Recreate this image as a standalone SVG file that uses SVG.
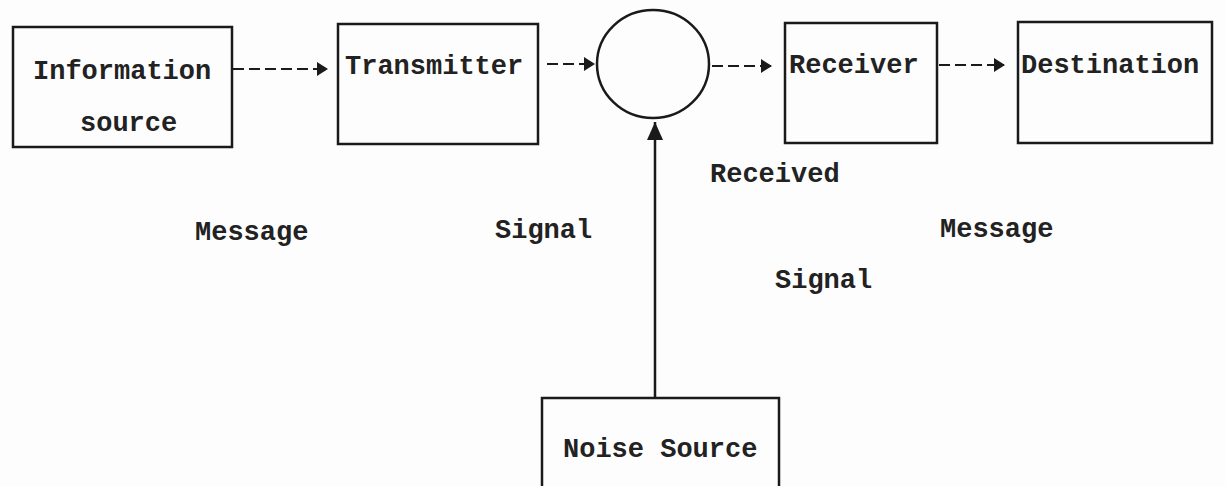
<svg xmlns="http://www.w3.org/2000/svg" width="1225" height="486" viewBox="0 0 1225 486">
<style>
.box{fill:none;stroke:#1a1a1a;stroke-width:2.5}
.t{font-family:"Liberation Mono","DejaVu Sans Mono",monospace;font-size:27px;font-weight:bold;fill:#222}
.dash{fill:none;stroke:#1a1a1a;stroke-width:2;stroke-dasharray:11 5}
.solid{fill:none;stroke:#1a1a1a;stroke-width:2.5}
</style>
<defs>
<marker id="ah" markerWidth="11" markerHeight="14" refX="10" refY="7" orient="auto" markerUnits="userSpaceOnUse">
<path d="M0,0 L11,7 L0,14 Z" fill="#1a1a1a"/>
</marker>
<marker id="ahv" markerWidth="18" markerHeight="16" refX="18" refY="8" orient="auto" markerUnits="userSpaceOnUse">
<path d="M0,0 L18,8 L0,16 Z" fill="#1a1a1a"/>
</marker>
</defs>
<rect width="1225" height="486" fill="#fdfdfd"/>
<g id="connectors">
<line class="dash" x1="233" y1="69" x2="327" y2="69" marker-end="url(#ah)"/>
<line class="dash" x1="547" y1="64" x2="594" y2="64" marker-end="url(#ah)"/>
<line class="dash" x1="712" y1="66" x2="771" y2="66" marker-end="url(#ah)"/>
<line class="dash" x1="939" y1="65" x2="1004" y2="65" marker-end="url(#ah)"/>
<line class="solid" x1="655" y1="398" x2="655" y2="122" marker-end="url(#ahv)"/>
</g>
<g id="info-source">
<rect class="box" x="13" y="27" width="219" height="120"/>
<text class="t" x="33" y="79">Information</text>
<text class="t" x="80" y="131">source</text>
</g>
<g id="transmitter">
<rect class="box" x="338" y="24" width="200" height="120"/>
<text class="t" x="345" y="74">Transmitter</text>
</g>
<g id="channel">
<ellipse cx="653" cy="64" rx="56" ry="54" fill="none" stroke="#1a1a1a" stroke-width="2.5"/>
</g>
<g id="receiver">
<rect class="box" x="785" y="23" width="152" height="120"/>
<text class="t" x="789" y="73">Receiver</text>
</g>
<g id="destination">
<rect class="box" x="1018" y="22" width="194" height="121"/>
<text class="t" x="1021" y="73">Destination</text>
</g>
<g id="noise-source">
<rect class="box" x="542" y="398" width="237" height="100"/>
<text class="t" x="563" y="457">Noise Source</text>
</g>
<g id="labels">
<text class="t" x="195" y="240">Message</text>
<text class="t" x="495" y="238">Signal</text>
<text class="t" x="710" y="182">Received</text>
<text class="t" x="940" y="237">Message</text>
<text class="t" x="775" y="288">Signal</text>
</g>
</svg>
